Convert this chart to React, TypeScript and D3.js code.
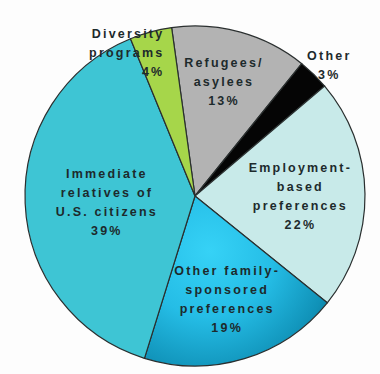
import React from "react";
import * as d3 from "d3";

const categories = [
  "Refugees/asylees",
  "Other",
  "Employment-based preferences",
  "Other family-sponsored preferences",
  "Immediate relatives of U.S. citizens",
  "Diversity programs",
];
const values = [13, 3, 22, 19, 39, 4];
const labelLines = [
  ["Refugees/", "asylees", "13%"],
  ["Other", "3%"],
  ["Employment-", "based", "preferences", "22%"],
  ["Other family-", "sponsored", "preferences", "19%"],
  ["Immediate", "relatives of", "U.S. citizens", "39%"],
  ["Diversity", "programs", "4%"],
];
const colors = ["#b3b3b3", "#050505", "#c8eae9", "url(#famGrad)", "#3ec5d4", "#a6d64a"];
// label placement: radius factor, anchor, angle tweak (deg)
const labelRadius = [0.69, 1.1, 0.62, 0.64, 0.52, 0.86];
const labelAnchor = ["middle", "middle", "middle", "middle", "middle", "end"];
const labelAngleShift = [-1.2, 1.6, 1.2, -0.3, -2, 3];

export default function App() {
  const W = 380, H = 374;
  const cx = 195, cy = 196;
  const R = 170;
  const start = (-7.9 * Math.PI) / 180;
  const pie = d3.pie<number>().sort(null).value((d) => d)
    .startAngle(start).endAngle(start + 2 * Math.PI);
  const arcs = pie(values);
  const arc = d3.arc<d3.PieArcDatum<number>>().innerRadius(0).outerRadius(R);
  const lineH = 19;
  return (
    <svg width={W} height={H} style={{ position: "absolute", left: 0, top: 0, background: "#fdfdfd" }}>
      <defs>
        <radialGradient id="famGrad" gradientUnits="userSpaceOnUse" cx={10} cy={55} r={165} fx={15} fy={55}>
          <stop offset="0" stopColor="#36d2f6" />
          <stop offset="0.4" stopColor="#25bde6" />
          <stop offset="0.75" stopColor="#1092b8" />
          <stop offset="1" stopColor="#06607a" />
        </radialGradient>
      </defs>
      <g transform={`translate(${cx},${cy})`}>
        {arcs.map((a, i) => (
          <path key={categories[i]} d={arc(a) || ""} fill={colors[i]} stroke="#2a2f2f" strokeWidth={1.2} />
        ))}
        {arcs.map((a, i) => {
          const mid = (a.startAngle + a.endAngle) / 2 + (labelAngleShift[i] * Math.PI) / 180;
          const r = R * labelRadius[i];
          const x = Math.sin(mid) * r;
          const y = -Math.cos(mid) * r;
          const lines = labelLines[i];
          const y0 = y - ((lines.length - 1) * lineH) / 2;
          return (
            <text key={"t" + i} x={x} y={y0} textAnchor={labelAnchor[i]} fontFamily="Liberation Sans, Arial, sans-serif"
              fontWeight="bold" fontSize={12.5} letterSpacing={2.2} fill="#1d2a2c" dominantBaseline="central">
              {lines.map((l, j) => (
                <tspan key={j} x={x} y={y0 + j * lineH}>{l}</tspan>
              ))}
            </text>
          );
        })}
      </g>
    </svg>
  );
}
